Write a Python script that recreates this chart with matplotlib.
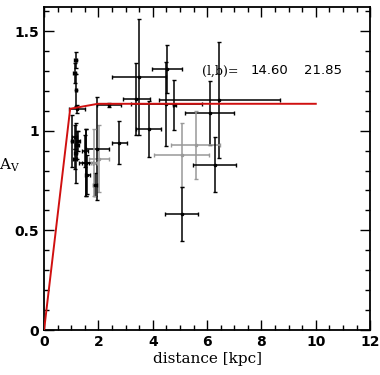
#!/usr/bin/env python
"""
Extinction vs distance plot: A_V along the line of sight
"""

import numpy as np
import matplotlib
matplotlib.use("Agg")
import matplotlib.pyplot as plt
from matplotlib.ticker import MultipleLocator, FixedLocator, FixedFormatter

# data points: distance [kpc], A_V, errors
dist = [1.16, 1.12, 1.17, 1.20, 1.03, 1.16, 1.12, 1.20, 1.14, 1.25,
        1.53, 1.59, 1.50, 2.02, 1.96, 1.55, 1.88, 1.84, 2.38,
        2.77, 3.50, 3.40, 3.85, 4.53, 4.50, 4.80, 6.45, 6.10,
        5.58, 5.06, 6.28, 5.06]
av = [1.357, 1.29, 1.205, 1.11, 0.95, 0.89, 0.97, 0.93, 0.86, 0.95,
      0.84, 0.78, 0.90, 0.86, 0.91, 0.84, 0.73, 0.84, 1.13,
      0.94, 1.27, 1.16, 1.01, 1.31, 1.135, 1.13, 1.155, 1.09,
      0.93, 0.88, 0.83, 0.58]
dist_err = [0.05, 0.04, 0.03, 0.30, 0.05, 0.05, 0.08, 0.08, 0.06, 0.06,
            0.12, 0.10, 0.10, 0.37, 0.43, 0.25, 0.08, 0.10, 0.45,
            0.28, 1.00, 0.50, 0.47, 0.54, 1.30, 0.05, 2.23, 0.90,
            0.90, 1.00, 0.80, 0.62]
av_err = [0.04, 0.05, 0.08, 0.02, 0.13, 0.15, 0.06, 0.07, 0.05, 0.05,
          0.17, 0.10, 0.08, 0.17, 0.26, 0.17, 0.06, 0.17, 0.01,
          0.107, 0.29, 0.18, 0.14, 0.12, 0.21, 0.125, 0.29, 0.16,
          0.17, 0.16, 0.14, 0.135]
grey = [False, False, False, False, False, False, False, False, False, False,
        False, False, False, True, False, False, False, True, False,
        False, False, False, False, False, False, False, False, False,
        True, True, False, False]

# extinction model (red line)
model_d = [0.0, 0.96, 1.98, 10.0]
model_av = [0.0, 1.11, 1.135, 1.135]

x_ticks = [0, 2, 4, 6, 8, 10, 12]
y_ticks = [0, 0.5, 1, 1.5]
y_tick_labels = ["0", "0.5", "1", "1.5"]


def main():
    fig = plt.figure(figsize=(3.8, 3.75), dpi=100)
    ax = fig.add_axes([0.116, 0.12, 0.858, 0.861])

    # 误差棒
    for d, a, de, ae, g in zip(dist, av, dist_err, av_err, grey):
        col = "0.6" if g else "black"
        ax.errorbar(d, a, xerr=de, yerr=ae, fmt="o", ms=1.6, color=col,
                    ecolor=col, elinewidth=1.1, capsize=1.5, capthick=1.0,
                    zorder=2)

    ax.plot(model_d, model_av, color="#d01010", lw=1.4, zorder=3)

    ax.text(5.83, 1.30, "(l,b)=", family="DejaVu Serif", fontsize=9,
            va="center", ha="left")
    ax.text(7.61, 1.30, "14.60", family="DejaVu Sans", fontsize=9.5,
            va="center", ha="left")
    ax.text(9.58, 1.30, "21.85", family="DejaVu Sans", fontsize=9.5,
            va="center", ha="left")

    ax.set_xlim(0, 12)
    ax.set_ylim(0, 1.62)
    ax.xaxis.set_major_locator(FixedLocator(x_ticks))
    ax.xaxis.set_minor_locator(MultipleLocator(0.5))
    ax.yaxis.set_major_locator(FixedLocator(y_ticks))
    ax.yaxis.set_major_formatter(FixedFormatter(y_tick_labels))
    ax.yaxis.set_minor_locator(MultipleLocator(0.1))

    ax.tick_params(which="both", direction="in", top=True, right=True,
                   width=1.0)
    ax.tick_params(which="major", length=7, labelsize=10)
    ax.tick_params(which="minor", length=3.5)
    for lab in ax.get_xticklabels() + ax.get_yticklabels():
        lab.set_fontweight("bold")
    for sp in ax.spines.values():
        sp.set_linewidth(1.3)

    ax.set_xlabel("distance [kpc]", family="DejaVu Serif", fontsize=11,
                  labelpad=2)
    fig.text(10 / 380, 1 - 165 / 375, r"$\mathregular{A_V}$",
             family="DejaVu Serif", fontsize=11, ha="center", va="center")

    fig.savefig("out.png", dpi=100)


if __name__ == "__main__":
    main()
